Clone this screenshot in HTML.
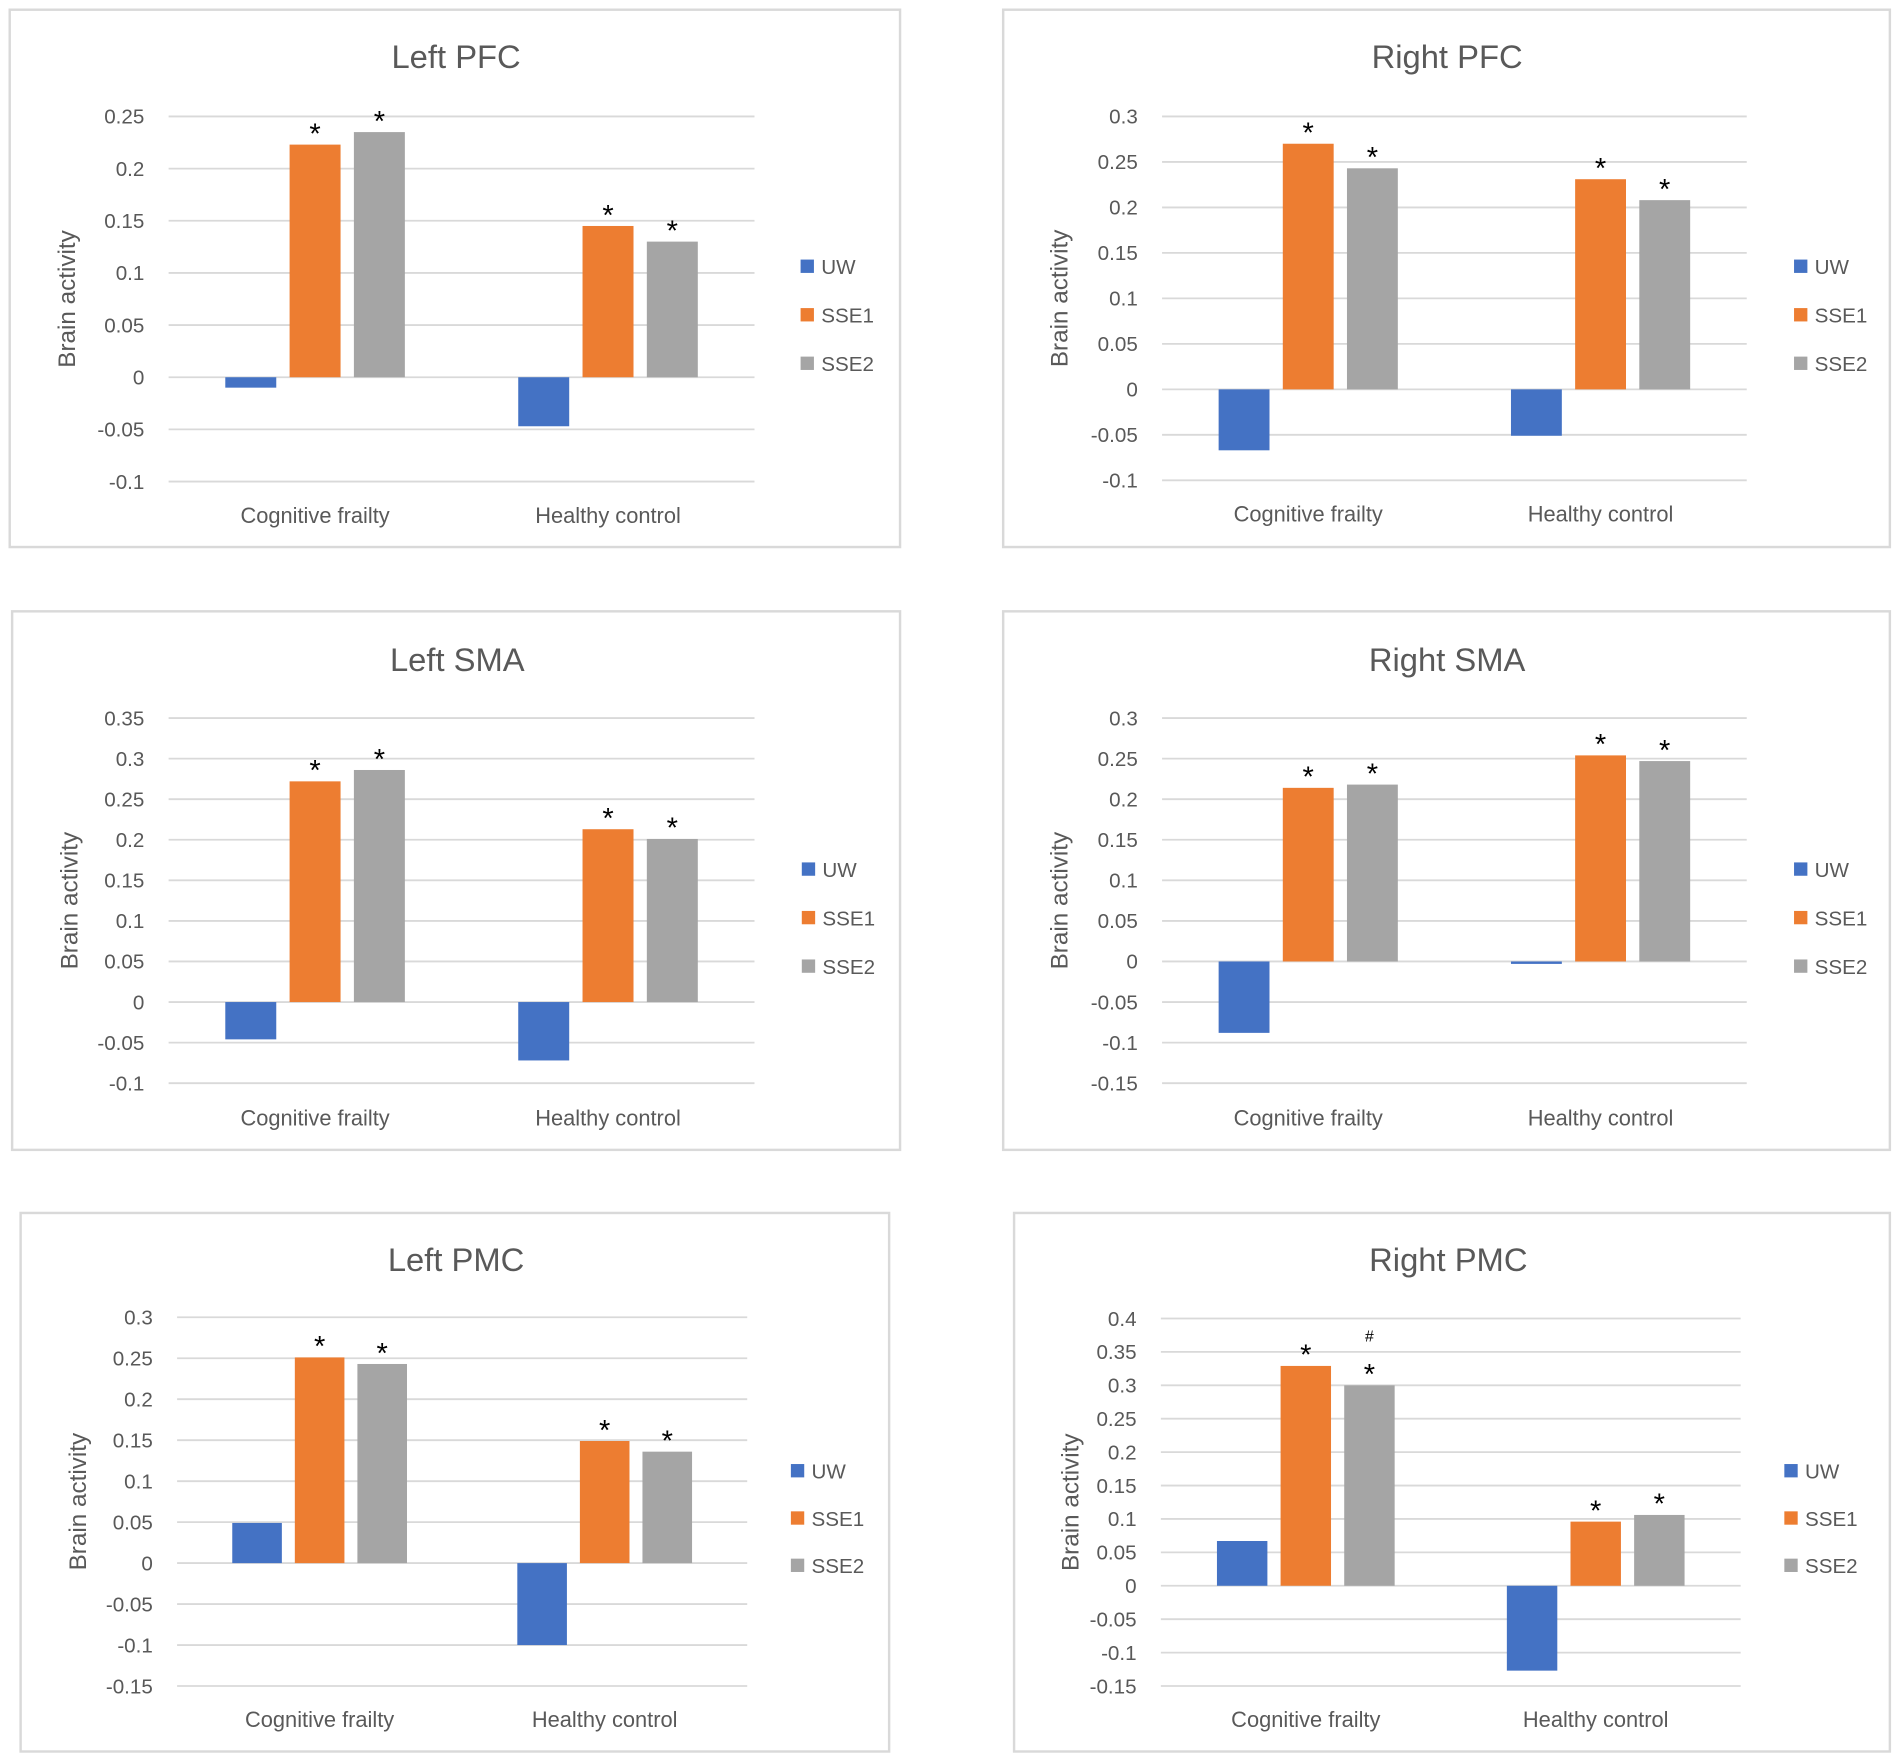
<!DOCTYPE html>
<html><head><meta charset="utf-8"><style>
html,body{margin:0;padding:0;background:#fff}
svg{display:block}
text{font-family:"Liberation Sans",sans-serif;fill:#595959}
</style></head><body>
<svg id="c" width="1902" height="1760" viewBox="0 0 1568 1451" preserveAspectRatio="none" xmlns="http://www.w3.org/2000/svg"></svg>
<script>
const categories = ["Cognitive frailty", "Healthy control"];
const seriesNames = ["UW", "SSE1", "SSE2"];
const colors = ["#4472C4", "#ED7D31", "#A5A5A5"];
const titles = ["Left PFC", "Right PFC", "Left SMA", "Right SMA", "Left PMC", "Right PMC"];
const uwValues   = [[-0.01, -0.047], [-0.067, -0.051], [-0.046, -0.072], [-0.088, -0.003], [0.049, -0.1], [0.067, -0.127]];
const sse1Values = [[0.223, 0.145], [0.27, 0.231], [0.272, 0.213], [0.214, 0.254], [0.251, 0.149], [0.329, 0.096]];
const sse2Values = [[0.235, 0.13], [0.243, 0.208], [0.286, 0.201], [0.218, 0.247], [0.243, 0.136], [0.3, 0.106]];
const yMaxs = [0.25, 0.3, 0.35, 0.3, 0.3, 0.4];
const yMins = [-0.1, -0.1, -0.1, -0.15, -0.15, -0.15];
const hashMarks = [null, null, null, null, null, [0, 2]];

const layouts = [
 {bx:8,by:8,bw:734,bh:443,px0:139,px1:622,yTop:96,yBot:397,tx:376,ty:56,catY:431,lx:660,ly:[220,260,300],ytx:55},
 {bx:827,by:8,bw:731,bh:443,px0:958,px1:1440,yTop:96,yBot:396,tx:1193,ty:56,catY:430,lx:1479,ly:[220,260,300],ytx:873},
 {bx:10,by:504,bw:732,bh:444,px0:139,px1:622,yTop:592,yBot:893,tx:377,ty:553,catY:928,lx:661,ly:[717,757,797],ytx:57},
 {bx:827,by:504,bw:731,bh:444,px0:958,px1:1440,yTop:592,yBot:893,tx:1193,ty:553,catY:928,lx:1479,ly:[717,757,797],ytx:873},
 {bx:17,by:1000,bw:716,bh:444,px0:146,px1:616,yTop:1086,yBot:1390,tx:376,ty:1048,catY:1424,lx:652,ly:[1213,1252,1291],ytx:64},
 {bx:836,by:1000,bw:722,bh:444,px0:957,px1:1435,yTop:1087,yBot:1390,tx:1194,ty:1048,catY:1424,lx:1471,ly:[1213,1252,1291],ytx:882}
];
const svg = document.getElementById('c');
const NS = "http://www.w3.org/2000/svg";
function mk(tag, attrs, parent){const e=document.createElementNS(NS,tag);for(const k in attrs)e.setAttribute(k,attrs[k]);parent.appendChild(e);return e;}
function fmt(v){return (Math.round(v*100)/100).toString();}

titles.forEach((t,pi)=>{
  const L=layouts[pi];
  const g=mk('g',{},svg);
  
  
  const box=mk('rect',{x:L.bx,y:L.by,width:L.bw,height:L.bh,fill:'#fff',stroke:'#d9d9d9','stroke-width':2},g);
  
  
  const tt=mk('text',{x:L.tx,y:L.ty,'text-anchor':'middle','font-size':27},g);tt.textContent=t;
  
  
  const yMax=yMaxs[pi], yMin=yMins[pi];
  const yS=v=>L.yTop+(yMax-v)/(yMax-yMin)*(L.yBot-L.yTop);
  const nT=Math.round((yMax-yMin)/0.05);
  for(let i=0;i<=nT;i++){
    const v=yMax-i*0.05, y=yS(v);
    const gl=mk('line',{x1:L.px0,x2:L.px1,y1:y,y2:y,stroke:'#d9d9d9','stroke-width':1.5},g);
    
    
    const tl=mk('text',{x:L.px0-20,y:y+6,'text-anchor':'end','font-size':17},g);tl.textContent=fmt(v);
    
    
  }
  const ycy=(L.yTop+L.yBot)/2;
  const yt=mk('text',{x:L.ytx,y:ycy,'text-anchor':'middle','font-size':20,transform:`rotate(-90 ${L.ytx} ${ycy})`,dy:7},g);yt.textContent='Brain activity';
  
  
  const gw=(L.px1-L.px0)/categories.length;
  const bw=gw*0.174, step=gw*0.2195;
  const vals=[uwValues[pi],sse1Values[pi],sse2Values[pi]];
  categories.forEach((c,ci)=>{
    const cx=L.px0+gw*(ci+0.5);
    const ct=mk('text',{x:cx,y:L.catY,'text-anchor':'middle','font-size':18},g);ct.textContent=c;
    
    
    for(let s=0;s<3;s++){
      const v=vals[s][ci];
      const y0=yS(0), y1=yS(v);
      const bx=cx+(s-1)*step-bw/2;
      const r=mk('rect',{x:bx,y:Math.min(y0,y1),width:bw,height:Math.abs(y1-y0),fill:colors[s]},g);
      
      
      if(s>0){
        const st=mk('text',{x:bx+bw/2,y:y1-1,'text-anchor':'middle','font-size':24,style:'fill:#000'},g);st.textContent='*';
        
        
        const hm=hashMarks[pi];
        if(hm&&hm[0]===ci&&hm[1]===s){
          const h=mk('text',{x:bx+bw/2,y:y1-36,'text-anchor':'middle','font-size':13,style:'fill:#000'},g);h.textContent='#';
          
          
        }
      }
    }
  });
  seriesNames.forEach((n,s)=>{
    const lg=mk('g',{},g);
    
    
    mk('rect',{x:L.lx,y:L.ly[s]-6,width:11,height:11,fill:colors[s]},lg);
    const lt=mk('text',{x:L.lx+17,y:L.ly[s]+6,'font-size':17},lg);lt.textContent=n;
  });
});
</script>
</body></html>
